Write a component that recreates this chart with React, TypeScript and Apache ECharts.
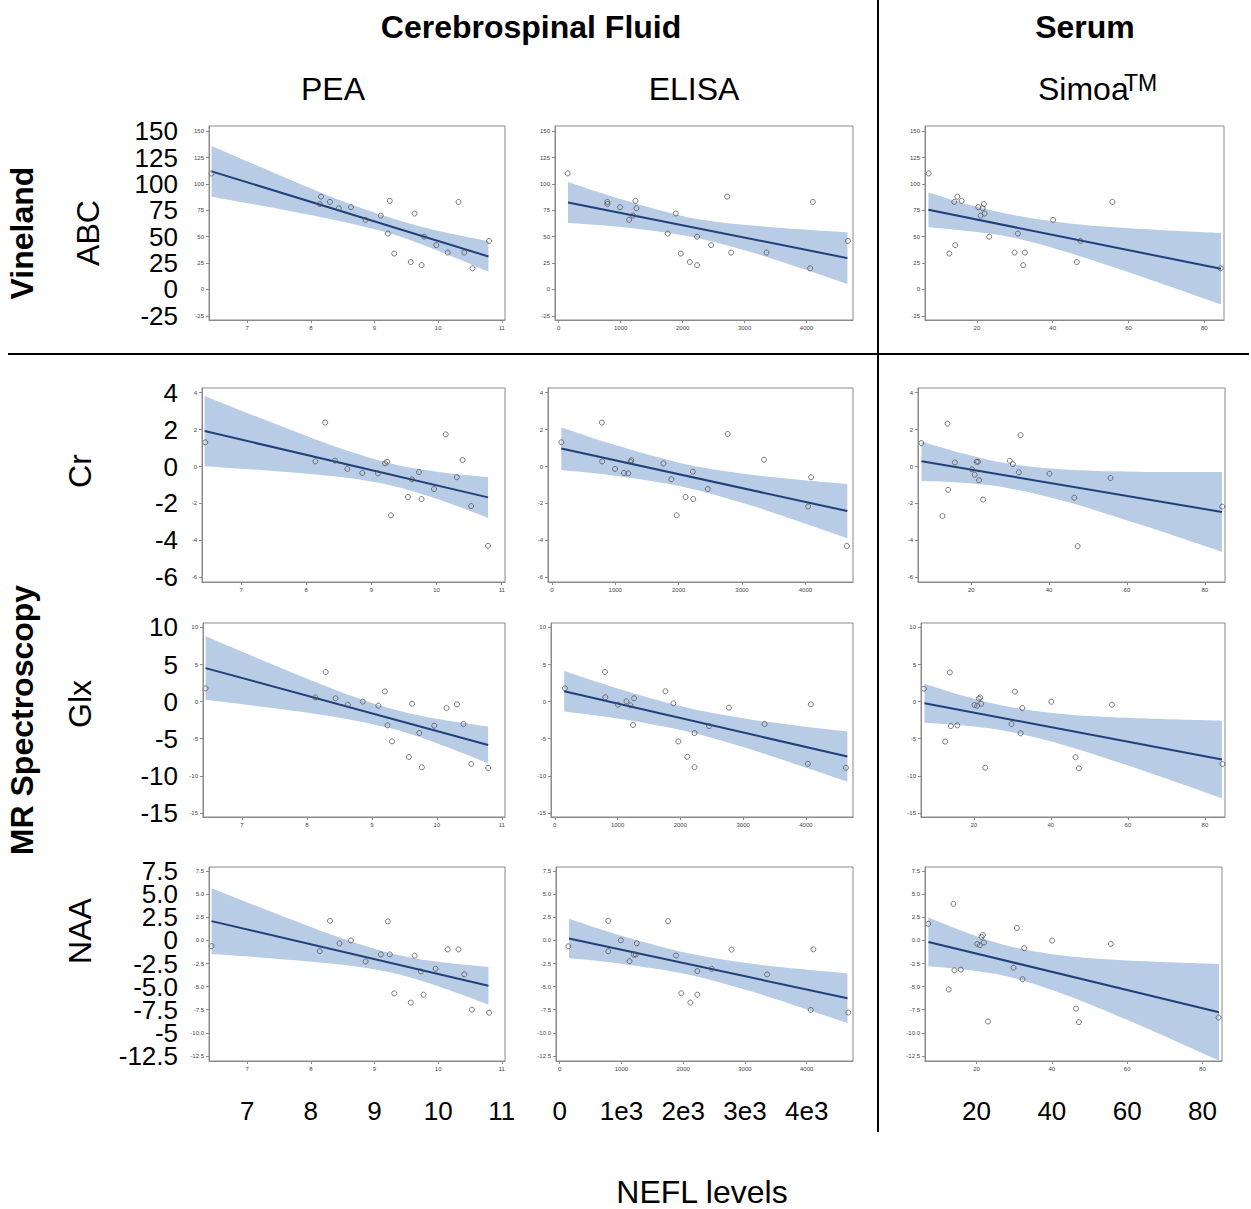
import React, { useEffect, useRef } from "react";
import * as echarts from "echarts";

const FONT = '"Liberation Sans", Arial, Helvetica, sans-serif';

// ---------- x positions at which the fitted band was read (per NEFL assay) ----------
const fitX_PEA = [6.44, 7.5, 8.5, 9.3, 10.0, 10.79];
const fitX_ELISA = [150, 1000, 2060, 3000, 3900, 4660];
const fitX_Simoa = [7.2, 18, 29.6, 45, 65, 84.4];

// ---------- tick values ----------
const ticksX_PEA = [7, 8, 9, 10, 11];
const ticksX_ELISA = [0, 1000, 2000, 3000, 4000];
const ticksX_Simoa = [20, 40, 60, 80];
const ticksY_ABC = [150, 125, 100, 75, 50, 25, 0, -25];
const ticksY_Cr = [4, 2, 0, -2, -4, -6];
const ticksY_Glx = [10, 5, 0, -5, -10, -15];
const ticksY_NAA = [7.5, 5, 2.5, 0, -2.5, -5, -7.5, -10, -12.5];

// ---------- large overlay tick labels ----------
const bigX_PEA = ["7", "8", "9", "10", "11"];
const bigX_ELISA = ["0", "1e3", "2e3", "3e3", "4e3"];
const bigX_Simoa = ["20", "40", "60", "80"];
const bigY_ABC = ["150", "125", "100", "75", "50", "25", "0", "-25"];
const bigY_Cr = ["4", "2", "0", "-2", "-4", "-6"];
const bigY_Glx = ["10", "5", "0", "-5", "-10", "-15"];
const bigY_NAA = ["7.5", "5.0", "2.5", "0", "-2.5", "-5.0", "-7.5", "-5", "-12.5"];

// ---------- Row 1: Vineland ABC ----------
const PEA_ABC_pts = [[6.44,110],[8.14,81],[8.16,88],[8.30,83],[8.44,77],[8.63,78],[8.86,66],[9.10,70],[9.21,53],[9.24,84],[9.31,34],[9.57,26],[9.63,72],[9.74,23],[9.78,50],[9.97,42],[10.15,35],[10.32,83],[10.41,35],[10.54,20],[10.80,46]];
const PEA_ABC_hi = [136.0, 108.5, 83.6, 67.1, 55.6, 45.7];
const PEA_ABC_lo = [88.0, 76.3, 64.2, 52.1, 36.6, 16.9];
const PEA_ABC_fit = [112, 31.3];

const ELISA_ABC_pts = [[145,110],[786,83],[786,81],[990,78],[1136,66],[1200,70],[1238,84],[1254,77],[1760,53],[1890,72],[1970,34],[2116,26],[2234,50],[2234,23],[2460,42],[2719,88],[2783,35],[3354,35],[4059,20],[4102,83],[4668,46]];
const ELISA_ABC_hi = [101.9, 85.7, 68.8, 61.3, 57.1, 54.2];
const ELISA_ABC_lo = [63.1, 59.3, 50.8, 37.2, 20.4, 5.2];
const ELISA_ABC_fit = [82.5, 29.7];

const Simoa_ABC_pts = [[7.26,110],[12.71,34],[14.03,83],[14.29,42],[14.82,88],[15.96,84],[20.35,78],[20.97,70],[21.49,77],[21.84,81],[22.02,72],[23.25,50],[29.93,35],[30.81,53],[32.21,23],[32.65,35],[40.12,66],[46.35,26],[47.32,46],[55.75,83],[84.31,20]];
const Simoa_ABC_hi = [92.0, 80.2, 70.5, 62.4, 57.1, 53.5];
const Simoa_ABC_lo = [59.0, 55.2, 49.1, 34.0, 10.1, -14.3];
const Simoa_ABC_fit = [75.5, 19.6];

// ---------- Row 2: Cr ----------
const PEA_Cr_pts = [[6.45,1.31],[8.14,0.28],[8.29,2.38],[8.44,0.32],[8.63,-0.13],[8.86,-0.35],[9.10,-0.37],[9.21,0.17],[9.24,0.26],[9.30,-2.64],[9.56,-1.65],[9.62,-0.69],[9.73,-0.30],[9.77,-1.76],[9.96,-1.22],[10.14,1.74],[10.31,-0.58],[10.40,0.35],[10.53,-2.14],[10.79,-4.29]];
const PEA_Cr_hi = [3.82, 2.34, 1.01, 0.16, -0.28, -0.57];
const PEA_Cr_lo = [0.02, -0.24, -0.56, -1.03, -1.75, -2.77];
const PEA_Cr_fit = [1.92, -1.67];

const ELISA_Cr_pts = [[151,1.31],[789,2.38],[794,0.28],[997,-0.13],[1138,-0.35],[1206,-0.37],[1243,0.25],[1253,0.34],[1760,0.17],[1885,-0.69],[1969,-2.64],[2110,-1.65],[2225,-0.28],[2230,-1.76],[2460,-1.22],[2773,1.76],[3347,0.37],[4042,-2.16],[4089,-0.58],[4653,-4.30]];
const ELISA_Cr_hi = [2.13, 1.16, 0.17, -0.38, -0.71, -0.94];
const ELISA_Cr_lo = [-0.19, -0.50, -1.09, -1.96, -2.97, -3.88];
const ELISA_Cr_fit = [0.97, -2.41];

const Simoa_Cr_pts = [[7.16,1.27],[12.59,-2.68],[13.88,2.32],[14.05,-1.26],[15.78,0.22],[20.17,-0.15],[20.86,-0.44],[21.38,0.26],[21.72,0.26],[21.98,-0.74],[23.02,-1.79],[29.91,0.31],[30.69,0.13],[32.24,-0.31],[32.67,1.70],[40.09,-0.39],[46.47,-1.69],[47.33,-4.31],[55.78,-0.62],[84.48,-2.17]];
const Simoa_Cr_hi = [1.36, 0.70, 0.15, -0.18, -0.29, -0.30];
const Simoa_Cr_lo = [-0.78, -0.88, -1.17, -1.94, -3.25, -4.62];
const Simoa_Cr_fit = [0.29, -2.46];

// ---------- Row 3: Glx ----------
const PEA_Glx_pts = [[6.44,1.79],[8.13,0.57],[8.29,3.99],[8.44,0.44],[8.63,-0.41],[8.86,0.0],[9.10,-0.55],[9.20,1.38],[9.24,-3.2],[9.31,-5.35],[9.57,-7.46],[9.62,-0.28],[9.73,-4.23],[9.77,-8.85],[9.96,-3.24],[10.15,-0.86],[10.31,-0.37],[10.41,-3.02],[10.53,-8.4],[10.79,-8.94]];
const PEA_Glx_hi = [8.80, 4.90, 1.38, -0.95, -2.31, -3.37];
const PEA_Glx_lo = [0.24, -0.90, -2.16, -3.63, -5.61, -8.31];
const PEA_Glx_fit = [4.52, -5.84];

const ELISA_Glx_pts = [[163,1.8],[800,4.0],[805,0.59],[1005,-0.41],[1142,0.05],[1205,-0.5],[1247,-3.15],[1263,0.45],[1763,1.4],[1889,-0.23],[1968,-5.36],[2111,-7.43],[2226,-4.23],[2226,-8.83],[2458,-3.29],[2774,-0.81],[3342,-3.02],[4032,-8.38],[4079,-0.36],[4637,-8.92]];
const ELISA_Glx_hi = [4.12, 1.77, -0.73, -2.24, -3.28, -4.0];
const ELISA_Glx_lo = [-1.32, -2.27, -3.93, -6.12, -8.62, -10.8];
const ELISA_Glx_fit = [1.40, -7.40];

const Simoa_Glx_pts = [[7.06,1.74],[12.57,-5.39],[13.79,3.94],[14.05,-3.29],[15.71,-3.2],[20.17,-0.46],[20.87,-0.55],[21.31,0.40],[21.66,0.57],[21.92,-0.28],[22.97,-8.9],[29.8,-3.02],[30.67,1.34],[32.16,-4.27],[32.6,-0.86],[40.12,-0.01],[46.41,-7.5],[47.29,-8.99],[55.86,-0.41],[84.55,-8.4]];
const Simoa_Glx_hi = [2.41, 0.68, -0.75, -1.76, -2.28, -2.57];
const Simoa_Glx_lo = [-2.85, -3.26, -4.09, -6.10, -9.48, -13.03];
const Simoa_Glx_fit = [-0.22, -7.80];

// ---------- Row 4: NAA ----------
const PEA_NAA_pts = [[6.44,-0.61],[8.14,-1.15],[8.30,2.13],[8.45,-0.32],[8.63,0.0],[8.86,-2.27],[9.10,-1.51],[9.21,2.06],[9.24,-1.51],[9.31,-5.73],[9.57,-6.73],[9.63,-1.65],[9.73,-3.35],[9.77,-5.87],[9.96,-3.06],[10.15,-0.97],[10.32,-0.97],[10.41,-3.67],[10.53,-7.49],[10.80,-7.82]];
const PEA_NAA_hi = [5.66, 2.78, 0.20, -1.47, -2.31, -2.87];
const PEA_NAA_lo = [-1.48, -2.00, -2.64, -3.55, -4.95, -6.93];
const PEA_NAA_fit = [2.09, -4.90];

const ELISA_NAA_pts = [[140,-0.64],[786,2.12],[786,-1.17],[991,0.01],[1131,-2.25],[1201,-1.53],[1233,-1.53],[1249,-0.31],[1755,2.09],[1884,-1.64],[1970,-5.73],[2116,-6.73],[2229,-3.32],[2229,-5.87],[2460,-3.07],[2783,-0.99],[3359,-3.68],[4065,-7.52],[4108,-0.96],[4673,-7.8]];
const ELISA_NAA_hi = [2.34, 0.50, -1.37, -2.42, -3.10, -3.57];
const ELISA_NAA_lo = [-1.90, -2.52, -3.67, -5.32, -7.22, -8.95];
const ELISA_NAA_fit = [0.22, -6.26];

const Simoa_NAA_pts = [[7.16,1.81],[12.6,-5.31],[13.85,3.96],[14.12,-3.23],[15.81,-3.16],[20.18,-0.37],[20.89,-0.51],[21.34,0.38],[21.69,0.59],[21.96,-0.23],[23.03,-8.78],[29.81,-2.95],[30.7,1.35],[32.21,-4.2],[32.66,-0.84],[40.06,-0.01],[46.39,-7.38],[47.19,-8.85],[55.66,-0.37],[84.28,-8.35]];
const Simoa_NAA_hi = [2.47, 0.75, -0.71, -1.73, -2.26, -2.56];
const Simoa_NAA_lo = [-2.79, -3.21, -4.05, -6.09, -9.48, -13.0];
const Simoa_NAA_fit = [-0.16, -7.78];

// ---------- panel table (row-major) ----------
const panels = [
  { pts: PEA_ABC_pts, hi: PEA_ABC_hi, lo: PEA_ABC_lo, fit: PEA_ABC_fit },
  { pts: ELISA_ABC_pts, hi: ELISA_ABC_hi, lo: ELISA_ABC_lo, fit: ELISA_ABC_fit },
  { pts: Simoa_ABC_pts, hi: Simoa_ABC_hi, lo: Simoa_ABC_lo, fit: Simoa_ABC_fit },
  { pts: PEA_Cr_pts, hi: PEA_Cr_hi, lo: PEA_Cr_lo, fit: PEA_Cr_fit },
  { pts: ELISA_Cr_pts, hi: ELISA_Cr_hi, lo: ELISA_Cr_lo, fit: ELISA_Cr_fit },
  { pts: Simoa_Cr_pts, hi: Simoa_Cr_hi, lo: Simoa_Cr_lo, fit: Simoa_Cr_fit },
  { pts: PEA_Glx_pts, hi: PEA_Glx_hi, lo: PEA_Glx_lo, fit: PEA_Glx_fit },
  { pts: ELISA_Glx_pts, hi: ELISA_Glx_hi, lo: ELISA_Glx_lo, fit: ELISA_Glx_fit },
  { pts: Simoa_Glx_pts, hi: Simoa_Glx_hi, lo: Simoa_Glx_lo, fit: Simoa_Glx_fit },
  { pts: PEA_NAA_pts, hi: PEA_NAA_hi, lo: PEA_NAA_lo, fit: PEA_NAA_fit },
  { pts: ELISA_NAA_pts, hi: ELISA_NAA_hi, lo: ELISA_NAA_lo, fit: ELISA_NAA_fit },
  { pts: Simoa_NAA_pts, hi: Simoa_NAA_hi, lo: Simoa_NAA_lo, fit: Simoa_NAA_fit },
];

const colFitX = [fitX_PEA, fitX_ELISA, fitX_Simoa];
const colAxis = [
  { min: 6.4, max: 11.05, ticks: ticksX_PEA, big: bigX_PEA },
  { min: -60, max: 4750, ticks: ticksX_ELISA, big: bigX_ELISA },
  { min: 6.3, max: 85.2, ticks: ticksX_Simoa, big: bigX_Simoa },
];
const rowAxis = [
  { min: -29, max: 155, ticks: ticksY_ABC, big: bigY_ABC, dec: 0 },
  { min: -6.25, max: 4.25, ticks: ticksY_Cr, big: bigY_Cr, dec: 0 },
  { min: -15.55, max: 10.6, ticks: ticksY_Glx, big: bigY_Glx, dec: 0 },
  { min: -13.05, max: 7.95, ticks: ticksY_NAA, big: bigY_NAA, dec: 1 },
];

// ---------- layout ----------
const rowTop = [126, 388, 623, 867];
const plotH = 194;
const gridLeft = [[209, 555, 925], [202, 548, 918], [203, 551, 921], [209, 556, 925]];
const gridRight = [[505, 853, 1224], [505, 853, 1225], [505, 853, 1225], [505, 853, 1222]];
const bigLabelRight = 178;

const BAND = "#b8cce6";
const LINE = "#213f78";
const FRAME = "#8a8a8a";

// Confidence band outline: a smooth (Catmull-Rom) curve through the read band edges, drawn in pixel space.
const CIBand = echarts.graphic.extendShape({
  shape: { up: [] as number[][], lo: [] as number[][] },
  buildPath(ctx: any, shape: any) {
    const curve = (pts: number[][], first: boolean) => {
      if (!pts || !pts.length) return;
      if (first) ctx.moveTo(pts[0][0], pts[0][1]);
      else ctx.lineTo(pts[0][0], pts[0][1]);
      const t = 1 / 6;
      for (let i = 0; i < pts.length - 1; i++) {
        const p0 = pts[i - 1] || pts[i];
        const p1 = pts[i];
        const p2 = pts[i + 1];
        const p3 = pts[i + 2] || pts[i + 1];
        ctx.bezierCurveTo(
          p1[0] + (p2[0] - p0[0]) * t,
          p1[1] + (p2[1] - p0[1]) * t,
          p2[0] - (p3[0] - p1[0]) * t,
          p2[1] - (p3[1] - p1[1]) * t,
          p2[0],
          p2[1]
        );
      }
    };
    curve(shape.up, true);
    curve((shape.lo || []).slice().reverse(), false);
    ctx.closePath();
  },
} as any);
echarts.graphic.registerShape("ciBand", CIBand as any);

function labelFor(ticks: number[], labels: string[], v: number) {
  const i = ticks.findIndex((t) => Math.abs(t - v) < 1e-6);
  return i >= 0 ? labels[i] : "";
}

const txt = (
  text: string,
  x: number,
  y: number,
  size: number,
  bold = false,
  rot = 0,
  align = "center",
  lineHeight?: number
) => ({
  type: "text",
  x,
  y,
  rotation: rot,
  z: 20,
  style: {
    text,
    fill: "#000",
    fontSize: size,
    fontFamily: FONT,
    fontWeight: bold ? "bold" : "normal",
    align,
    verticalAlign: "middle",
    lineHeight: lineHeight || size,
  },
});

function staticGraphic() {
  const R = Math.PI / 2;
  return [
    txt("Cerebrospinal Fluid", 531, 27, 32, true),
    txt("Serum", 1085, 27, 32, true),
    txt("PEA", 333, 89, 32),
    txt("ELISA", 694, 89, 32),
    txt("Simoa", 1038, 89, 32, false, 0, "left"),
    txt("TM", 1124, 83, 23, false, 0, "left"),
    txt("NEFL levels", 702, 1192, 32, false, 0, "center", 28),
    txt("Vineland", 22, 233, 32, true, R),
    txt("ABC", 88, 233, 32, false, R),
    txt("MR Spectroscopy", 22, 720, 32, true, R),
    txt("Cr", 80, 471, 32, false, R),
    txt("Glx", 80, 704, 32, false, R),
    txt("NAA", 80, 931, 32, false, R),
    { type: "line", z: 20, shape: { x1: 878, y1: 0, x2: 878, y2: 1132 }, style: { stroke: "#000", lineWidth: 2 } },
    { type: "line", z: 20, shape: { x1: 8, y1: 354, x2: 1249, y2: 354 }, style: { stroke: "#000", lineWidth: 2 } },
  ];
}

function buildOption() {
  const grid: any[] = [];
  const xAxis: any[] = [];
  const yAxis: any[] = [];
  const series: any[] = [];

  for (let r = 0; r < 4; r++) {
    for (let c = 0; c < 3; c++) {
      const i = r * 3 + c;
      const ca = colAxis[c];
      const ra = rowAxis[r];
      grid.push({
        left: gridLeft[r][c],
        top: rowTop[r],
        width: gridRight[r][c] - gridLeft[r][c],
        height: plotH,
        show: true,
        backgroundColor: "#ffffff",
        borderColor: FRAME,
        borderWidth: 1,
      });
      xAxis.push({
        type: "value",
        gridIndex: i,
        min: ca.min,
        max: ca.max,
        z: 10,
        axisLine: { show: true, onZero: false, lineStyle: { color: FRAME, width: 1 } },
        axisTick: { show: true, length: 3, customValues: ca.ticks, lineStyle: { color: FRAME } },
        axisLabel: {
          customValues: ca.ticks,
          margin: 5,
          fontSize: 6,
          color: "#444",
          fontFamily: FONT,
          showMinLabel: true,
          showMaxLabel: true,
          formatter: (v: number) => String(v),
        },
        splitLine: { show: false },
      });
      yAxis.push({
        type: "value",
        gridIndex: i,
        min: ra.min,
        max: ra.max,
        position: "left",
        z: 10,
        axisLine: { show: true, onZero: false, lineStyle: { color: FRAME, width: 1 } },
        axisTick: { show: true, length: 3, customValues: ra.ticks, lineStyle: { color: FRAME } },
        axisLabel: {
          customValues: ra.ticks,
          margin: 5,
          fontSize: 6,
          color: "#444",
          fontFamily: FONT,
          showMinLabel: true,
          showMaxLabel: true,
          formatter: (v: number) => (ra.dec ? v.toFixed(ra.dec) : String(v)),
        },
        splitLine: { show: false },
      });

      const p = panels[i];
      const xs = colFitX[c];
      series.push({
        type: "custom",
        xAxisIndex: i,
        yAxisIndex: i,
        data: [[xs[0], p.hi[0]]],
        silent: true,
        clip: true,
        z: 1,
        renderItem: (_params: any, api: any) => ({
          type: "ciBand",
          shape: {
            up: xs.map((x, k) => api.coord([x, p.hi[k]])),
            lo: xs.map((x, k) => api.coord([x, p.lo[k]])),
          },
          style: { fill: BAND, stroke: null },
        }),
      });
      series.push({
        type: "line",
        xAxisIndex: i,
        yAxisIndex: i,
        data: [
          [xs[0], p.fit[0]],
          [xs[xs.length - 1], p.fit[1]],
        ],
        symbol: "none",
        silent: true,
        lineStyle: { color: LINE, width: 2 },
        z: 3,
      });
      series.push({
        type: "scatter",
        xAxisIndex: i,
        yAxisIndex: i,
        data: p.pts,
        symbol: "circle",
        symbolSize: 5,
        silent: true,
        itemStyle: { color: "rgba(255,255,255,0)", borderColor: "#555", borderWidth: 1 },
        z: 4,
      });
    }
  }

  // big overlay x labels on the bottom row
  for (let c = 0; c < 3; c++) {
    const ca = colAxis[c];
    xAxis.push({
      type: "value",
      gridIndex: 9 + c,
      min: ca.min,
      max: ca.max,
      position: "bottom",
      offset: 0,
      axisLine: { show: false },
      axisTick: { show: false },
      splitLine: { show: false },
      axisLabel: {
        customValues: ca.ticks,
        margin: 37,
        fontSize: 26,
        color: "#000",
        fontFamily: FONT,
        showMinLabel: true,
        showMaxLabel: true,
        formatter: (v: number) => labelFor(ca.ticks, ca.big, v),
      },
    });
  }

  return {
    animation: false,
    backgroundColor: "#ffffff",
    grid,
    xAxis,
    yAxis,
    series,
    graphic: staticGraphic(),
  };
}

export default function App() {
  const ref = useRef<HTMLDivElement>(null);
  useEffect(() => {
    document.body.style.margin = "0";
    const chart = echarts.init(ref.current as HTMLDivElement, null, { renderer: "svg" });
    chart.setOption(buildOption() as any);
    // big overlay y tick labels, placed through each row's y scale
    const bigLabels: any[] = [];
    for (let r = 0; r < 4; r++) {
      const ra = rowAxis[r];
      ra.ticks.forEach((v, k) => {
        const y = chart.convertToPixel({ yAxisIndex: r * 3 } as any, v) as unknown as number;
        bigLabels.push(txt(ra.big[k], bigLabelRight, y, 26, false, 0, "right", 18));
      });
    }
    chart.setOption({ graphic: [...staticGraphic(), ...bigLabels] } as any);
    return () => chart.dispose();
  }, []);
  return <div ref={ref} style={{ width: 1251, height: 1209 }} />;
}
